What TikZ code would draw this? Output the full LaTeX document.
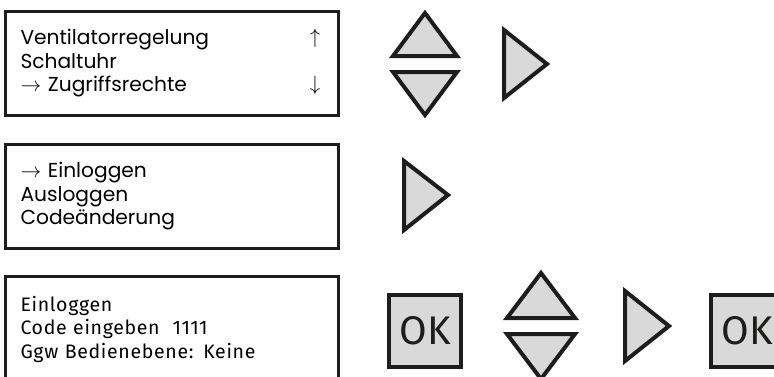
\documentclass[tikz,border=0pt]{standalone}
\usepackage{fontspec}
\setmainfont{Poppins}
\newfontfamily\dinfont[LetterSpace=3.5]{Fira Sans}
\newfontfamily\keyfont{Fira Sans}
\usepackage{xcolor}
\usepackage{tikz}
\usetikzlibrary{positioning}

\definecolor{ink}{HTML}{1D1D1B}
\definecolor{keygray}{HTML}{D9D9D9}

\begin{document}
\begin{tikzpicture}[
  x=1pt, y=-1pt,
  screen/.style={
    draw=ink, line width=3pt, align=left,
    inner xsep=15pt, text width=303pt, minimum height=104pt,
    font=\fontsize{20.2}{23.5}\selectfont
  },
  scrollmark/.style={font=\fontsize{20}{20}\selectfont, inner sep=0pt},
  keyshape/.style={draw=ink, fill=keygray, line width=4pt, line join=miter},
  okkey/.style={
    keyshape, minimum size=72pt, inner sep=0pt, text=ink,
    font=\keyfont\fontsize{40}{40}\selectfont
  }
]
\useasboundingbox (0,0) rectangle (774,376);

% display screens
\node[screen] (menu) at (172,63.5) {%
  Ventilatorregelung\\
  Schaltuhr\\
  $\rightarrow$ Zugriffsrechte
};
\node[scrollmark] (scrollup) at (315,38) {$\uparrow$};
\node[scrollmark] (scrolldown) at (315,85) {$\downarrow$};

\node[screen] (access) at (172,196.5) {%
  $\rightarrow$ Einloggen\\
  Ausloggen\\
  Codeänderung
};

\node[screen, minimum height=106pt, font=\dinfont\fontsize{19.5}{23.5}\selectfont] (login) at (172,329) {%
  Einloggen\\
  Code eingeben\ \ 1111\\
  Ggw Bedienebene: Keine
};

% keys, row 1
\draw[keyshape] (393,56) -- (425,13) -- (457,56) -- cycle;
\draw[keyshape] (393,72) -- (425,115) -- (457,72) -- cycle;
\draw[keyshape] (504,30) -- (547,64) -- (504,98) -- cycle;

% keys, row 2
\draw[keyshape] (404,161) -- (448,195) -- (404,230) -- cycle;

% keys, row 3
\node[okkey] (okfirst) at (425,330.5) {OK};
\draw[keyshape] (507,318) -- (541,273) -- (575,318) -- cycle;
\draw[keyshape] (507,334) -- (541,379) -- (575,334) -- cycle;
\draw[keyshape] (625,291) -- (669,326) -- (625,361) -- cycle;
\node[okkey] (oklast) at (747,331) {OK};

\end{tikzpicture}
\end{document}
